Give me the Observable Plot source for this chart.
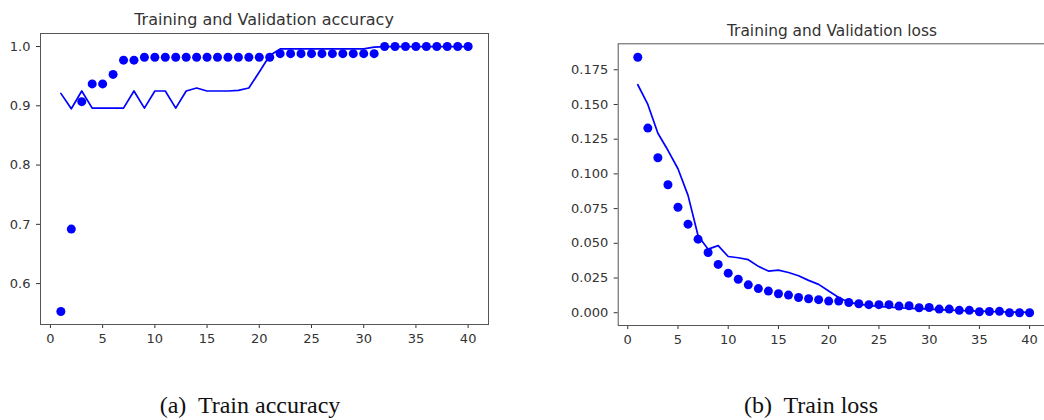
<!DOCTYPE html>
<html>
<head>
<meta charset="utf-8">
<script src="https://cdn.jsdelivr.net/npm/d3@7"></script>
<script src="https://cdn.jsdelivr.net/npm/@observablehq/plot@0.6"></script>
<style>
  html, body { margin: 0; padding: 0; background: #fff; width: 1044px; height: 420px; overflow: hidden; }
  .abs { position: absolute; }
  .abs svg { max-width: none !important; }
  .title { font-family: "DejaVu Sans", sans-serif; color: #333; text-align: center; white-space: pre; }
  .cap { font-family: "Liberation Serif", "DejaVu Serif", serif; color: #111; text-align: center; white-space: pre; }
</style>
</head>
<body>
<div id="left" class="abs" style="left:0;top:0;width:520px;height:360px;"></div>
<div id="right" class="abs" style="left:520px;top:0;width:540px;height:360px;"></div>
<div class="abs title" style="left:0;width:528px;top:11.5px;font-size:16px;line-height:16px;">Training and Validation accuracy</div>
<div class="abs title" style="left:533px;width:600px;top:23.6px;font-size:15.4px;line-height:15.4px;margin-left:-1px;">Training and Validation loss</div>
<div class="abs cap" style="left:0;width:500px;top:393.4px;font-size:24px;line-height:24px;">(a)  Train accuracy</div>
<div class="abs cap" style="left:611px;width:400px;top:393.4px;font-size:24px;line-height:24px;">(b)  Train loss</div>
<script>
// Epoch numbers
const epochs = [1,2,3,4,5,6,7,8,9,10,11,12,13,14,15,16,17,18,19,20,21,22,23,24,25,26,27,28,29,30,31,32,33,34,35,36,37,38,39,40];

// Training accuracy (dots)
const trainAcc = [0.553,0.692,0.907,0.937,0.937,0.953,0.977,0.977,0.982,0.982,
                  0.982,0.982,0.982,0.982,0.982,0.982,0.982,0.982,0.982,0.982,
                  0.982,0.988,0.988,0.988,0.988,0.988,0.988,0.988,0.988,0.988,
                  0.988,1.0,1.0,1.0,1.0,1.0,1.0,1.0,1.0,1.0];
// Validation accuracy (line)
const valAcc = [0.921,0.895,0.925,0.896,0.896,0.896,0.896,0.925,0.896,0.925,
                0.925,0.896,0.925,0.930,0.925,0.925,0.925,0.926,0.930,0.957,
                0.985,0.996,0.996,0.996,0.996,0.996,0.996,0.996,0.996,0.996,
                0.999,1.0,1.0,1.0,1.0,1.0,1.0,1.0,1.0,1.0];

// Training loss (dots)
const trainLoss = [0.184,0.133,0.1116,0.0922,0.0760,0.0638,0.0530,0.0434,0.0348,0.0285,
                   0.0241,0.0201,0.0174,0.0156,0.0137,0.0127,0.0110,0.0101,0.0094,0.0084,
                   0.0084,0.0074,0.0065,0.0058,0.0058,0.0058,0.0048,0.0050,0.0036,0.0038,
                   0.0026,0.0026,0.0017,0.0017,0.0007,0.0009,0.0010,0.0000,0.0000,0.0000];
// Validation loss (line)
const valLoss = [0.1642,0.1500,0.1293,0.1170,0.1037,0.0845,0.0555,0.0458,0.0483,0.0405,
                 0.0396,0.0382,0.0334,0.0300,0.0307,0.0290,0.0266,0.0233,0.0204,0.0156,
                 0.0110,0.0075,0.0062,0.0052,0.0046,0.0041,0.0036,0.0032,0.0029,0.0026,
                 0.0022,0.0019,0.0016,0.0013,0.0011,0.0009,0.0007,0.0005,0.0004,0.0003];

// Tick labels
const xTicks = [0,5,10,15,20,25,30,35,40];
const accTicks = [0.6,0.7,0.8,0.9,1.0];
const lossTicks = [0.000,0.025,0.050,0.075,0.100,0.125,0.150,0.175];

const accRows = epochs.map((e,i) => ({epoch: e, train: trainAcc[i], val: valAcc[i]}));
const lossRows = epochs.map((e,i) => ({epoch: e, train: trainLoss[i], val: valLoss[i]}));

const BLUE = "#0000ff";
const baseStyle = {fontFamily: "DejaVu Sans, sans-serif", fontSize: "13px", color: "#333", background: "transparent", overflow: "visible", maxWidth: "none"};

const left = Plot.plot({
  width: 520, height: 360,
  marginLeft: 40, marginRight: 32, marginTop: 33, marginBottom: 36,
  style: baseStyle,
  x: {domain: [-0.95, 41.95], ticks: xTicks, tickFormat: d3.format("d"), tickSize: 4, tickPadding: 5, label: null},
  y: {domain: [0.531, 1.022], ticks: accTicks, tickFormat: d3.format(".1f"), tickSize: 4, tickPadding: 6, label: null},
  marks: [
    Plot.frame({stroke: "#555", strokeWidth: 1}),
    Plot.dot(accRows, {x: "epoch", y: "train", r: 4.5, fill: BLUE, stroke: null}),
    Plot.line(accRows, {x: "epoch", y: "val", stroke: BLUE, strokeWidth: 1.7})
  ]
});
left.setAttribute("width", 520);
left.style.width = "520px";
document.getElementById("left").appendChild(left);

const right = Plot.plot({
  width: 540, height: 360,
  marginLeft: 97.7, marginRight: 11.3, marginTop: 43.3, marginBottom: 35,
  style: baseStyle,
  x: {domain: [-0.95, 41.95], ticks: xTicks, tickFormat: d3.format("d"), tickSize: 4, tickPadding: 5, label: null},
  y: {domain: [-0.0092, 0.1937], ticks: lossTicks, tickFormat: d3.format(".3f"), tickSize: 4, tickPadding: 6, label: null},
  marks: [
    Plot.frame({stroke: "#555", strokeWidth: 1}),
    Plot.dot(lossRows, {x: "epoch", y: "train", r: 4.5, fill: BLUE, stroke: null}),
    Plot.line(lossRows, {x: "epoch", y: "val", stroke: BLUE, strokeWidth: 1.7})
  ]
});
right.style.width = "540px";
right.style.height = "360px";
document.getElementById("right").appendChild(right);
</script>
</body>
</html>
